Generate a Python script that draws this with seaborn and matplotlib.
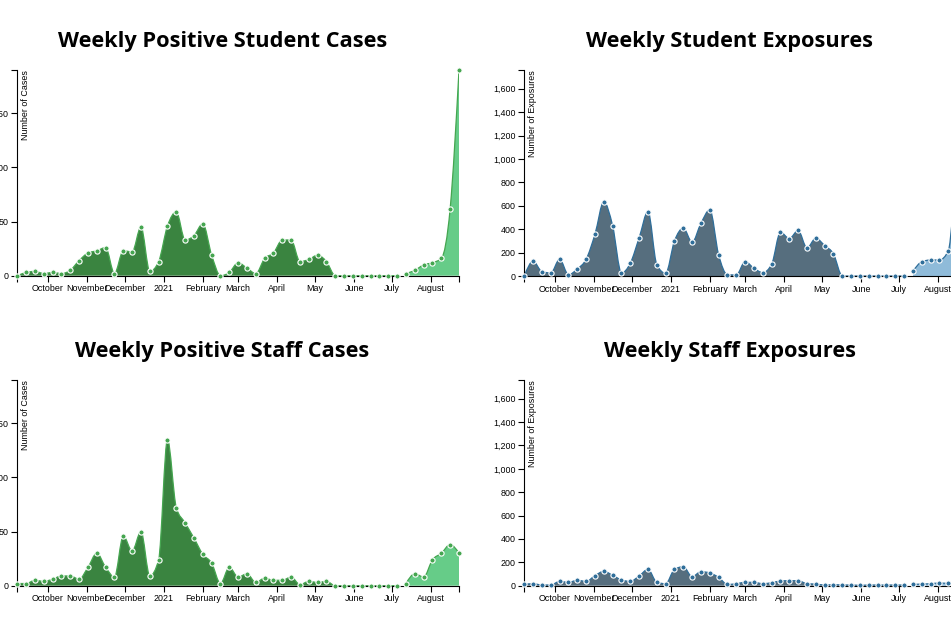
import numpy as np
import pandas as pd
import matplotlib
matplotlib.use("Agg")
import matplotlib.pyplot as plt
import matplotlib.dates as mdates
from matplotlib.path import Path
from matplotlib.patches import PathPatch
from matplotlib.ticker import FuncFormatter
import seaborn as sns

# weekly reporting dates
week_start = "2020-09-07"
n_weeks = 51
new_term_idx = 44  # from this week on the fill is lighter

student_cases = [0, 3, 4, 2, 3, 2, 5, 14, 21, 23, 26,
                 2, 23, 22, 45, 4, 13, 46, 59, 33, 37, 48, 19,
                 0, 3, 12, 7, 2, 16, 21, 33, 33, 13, 15, 19, 13,
                 0, 0, 0, 0, 0, 0, 0, 0,
                 2, 5, 10, 12, 16, 62, 190]
staff_cases = [2, 2, 5, 4, 6, 9, 9, 6,
               17, 30, 17, 8, 46, 32, 50, 9, 24, 135, 72, 58, 44, 29, 21,
               2, 17, 8, 11, 3, 7, 5, 5, 8, 1, 4, 3, 4,
               0, 0, 0, 0, 0, 0, 0, 0,
               2, 11, 8, 24, 30, 38, 30]
student_exposures = [0, 126, 37, 26, 143, 11, 60, 143, 357, 634, 429,
                     26, 109, 326, 551, 97, 23, 300, 409, 289, 451, 566, 180,
                     11, 9, 123, 66, 29, 100, 374, 320, 389, 240, 323, 260, 189,
                     0, 0, 0, 0, 0, 0, 0, 0,
                     40, 122, 137, 137, 216, 1030, 1760]
staff_exposures = [11, 17, 6, 6, 37, 29, 46, 37, 86, 123, 89,
                   49, 37, 83, 140, 29, 17, 140, 163, 77, 120, 109, 71,
                   11, 17, 29, 29, 17, 26, 40, 43, 43, 17, 14, 6, 9,
                   6, 6, 3, 6, 6, 6, 6, 6,
                   11, 14, 17, 23, 20, 25, 18]

month_ticks = ["2020-10-01", "2020-11-01", "2020-12-01", "2021-01-01", "2021-02-01",
               "2021-03-01", "2021-04-01", "2021-05-01", "2021-06-01", "2021-07-01",
               "2021-08-01"]
month_labels = ["October", "November", "December", "2021", "February", "March",
                "April", "May", "June", "July", "August"]

case_ticks = [0, 50, 100, 150]
exposure_ticks = [0, 200, 400, 600, 800, 1000, 1200, 1400, 1600]

green = dict(dark="#3a8440", light="#66cc88", line="#45a650")
blue = dict(dark="#566e7e", light="#8fbbd9", line="#2f6e9a")

sns.set_style("ticks")
plt.rcParams["font.family"] = ["Liberation Sans", "DejaVu Sans"]

dates = pd.date_range(week_start, periods=n_weeks, freq="7D")
xnum = mdates.date2num(dates)


# same shape as d3.curveMonotoneX, as bezier segments
def monotone_path(x, y):
    n = len(x)
    h = np.diff(x)
    s = np.diff(y) / h
    t = np.zeros(n)
    for i in range(1, n - 1):
        p = (s[i - 1] * h[i] + s[i] * h[i - 1]) / (h[i - 1] + h[i])
        t[i] = (np.sign(s[i - 1]) + np.sign(s[i])) * min(abs(s[i - 1]), abs(s[i]), 0.5 * abs(p))
    t[0] = (3 * s[0] - t[1]) / 2
    t[-1] = (3 * s[-1] - t[-2]) / 2
    verts = [(x[0], y[0])]
    codes = [Path.MOVETO]
    for i in range(n - 1):
        dx = h[i] / 3
        verts += [(x[i] + dx, y[i] + dx * t[i]), (x[i + 1] - dx, y[i + 1] - dx * t[i + 1]), (x[i + 1], y[i + 1])]
        codes += [Path.CURVE4] * 3
    return verts, codes


def draw_area(ax, x, y, fill, line):
    verts, codes = monotone_path(np.asarray(x, float), np.asarray(y, float))
    area_v = [(x[0], 0)] + verts + [(x[-1], 0), (x[0], 0)]
    area_c = [Path.MOVETO, Path.LINETO] + codes[1:] + [Path.LINETO, Path.CLOSEPOLY]
    ax.add_patch(PathPatch(Path(area_v, area_c), facecolor=fill, edgecolor="none", zorder=1))
    ax.add_patch(PathPatch(Path(verts, codes), facecolor="none", edgecolor=line, lw=0.9, zorder=2))


def panel(ax, values, colors, ytop, yticks, ylabel, comma=False):
    values = np.asarray(values, float)
    k = new_term_idx
    draw_area(ax, xnum[:k], values[:k], colors["dark"], colors["line"])
    draw_area(ax, xnum[k:], values[k:], colors["light"], colors["line"])
    df = pd.DataFrame({"week": dates, "count": values})
    sns.scatterplot(data=df, x="week", y="count", ax=ax, color=colors["line"],
                    edgecolor="white", linewidth=0.8, s=14, zorder=5, clip_on=False)
    ax.set_xlim(dates[0], dates[-1])
    ax.set_ylim(0, ytop)
    ax.set_xticks(pd.to_datetime(month_ticks))
    ax.set_xticklabels(month_labels)
    ax.set_xticks([xnum[0], xnum[-1]], minor=True)
    ax.set_yticks(yticks)
    ax.set_yticks([ytop], minor=True)
    if comma:
        ax.yaxis.set_major_formatter(FuncFormatter(lambda v, p: f"{int(v):,}"))
    ax.tick_params(which="both", length=4.3, width=0.8, color="black", labelsize=6.4,
                   pad=2, labelcolor="black")
    ax.yaxis.set_minor_formatter(FuncFormatter(lambda v, p: ""))
    ax.xaxis.set_minor_formatter(FuncFormatter(lambda v, p: ""))
    for side in ["top", "right"]:
        ax.spines[side].set_visible(False)
    for side in ["left", "bottom"]:
        ax.spines[side].set_linewidth(0.8)
        ax.spines[side].set_color("black")
    ax.set_xlabel("")
    ax.set_ylabel("")
    ax.text(0.019, 1.0, ylabel, transform=ax.transAxes, rotation=90,
            ha="center", va="top", fontsize=6.4, color="black")
    ax.set_facecolor("none")


W, H = 951, 634
fig = plt.figure(figsize=(W / 100, H / 100), dpi=100)


def add_axes_px(left, top, width, zero_y):
    return fig.add_axes([left / W, (H - zero_y) / H, width / W, (zero_y - top) / H])


case_top = max(student_cases)
exp_top = max(student_exposures)

ax1 = add_axes_px(17.3, 70, 441.7, 275.7)
ax2 = add_axes_px(524.3, 70, 441.7, 276)
ax3 = add_axes_px(17.3, 380, 441.7, 585.7)
ax4 = add_axes_px(524.3, 380, 441.7, 585.7)

panel(ax1, student_cases, green, case_top, case_ticks, "Number of Cases")
panel(ax2, student_exposures, blue, exp_top, exposure_ticks, "Number of Exposures", comma=True)
panel(ax3, staff_cases, green, case_top, case_ticks, "Number of Cases")
panel(ax4, staff_exposures, blue, exp_top, exposure_ticks, "Number of Exposures", comma=True)

titles = [("Weekly Positive Student Cases", 222.5, 47.5),
          ("Weekly Student Exposures", 729.5, 47.5),
          ("Weekly Positive Staff Cases", 222.5, 357.5),
          ("Weekly Staff Exposures", 729.5, 357.5)]
for text, tx, ty in titles:
    fig.text(tx / W, (H - ty) / H, text, ha="center", va="baseline", color="black",
             fontsize=15.7, fontweight="bold", family=["Open Sans", "DejaVu Sans"])

fig.savefig("out.png", dpi=100)
